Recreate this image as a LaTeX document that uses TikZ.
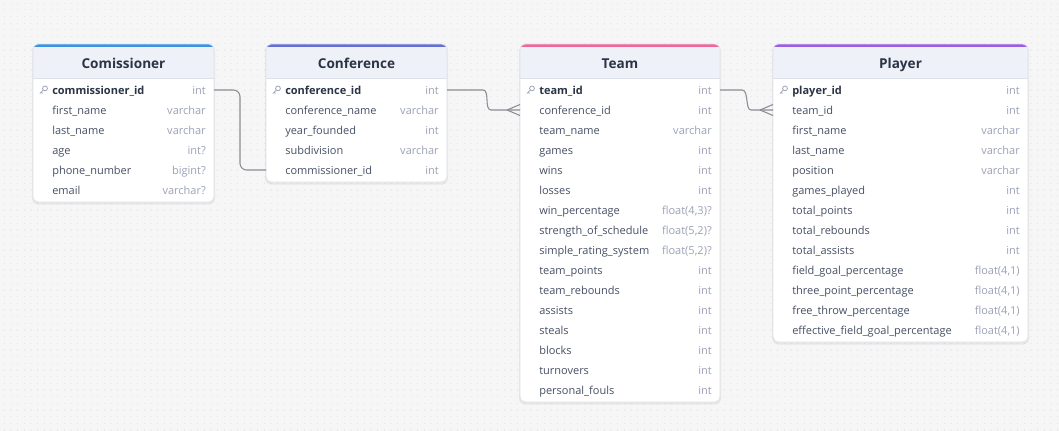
\documentclass[tikz,border=0pt]{standalone}
\usepackage{fontspec}
\setmainfont{Open Sans}
\usetikzlibrary{calc}

\definecolor{sfondo}{HTML}{F6F6F7}
\definecolor{puntini}{HTML}{E0E1E4}
\definecolor{intest}{HTML}{EEF2F8}
\definecolor{bordo}{HTML}{DDE2EA}
\definecolor{nome}{HTML}{465064}
\definecolor{tipo}{HTML}{9CA2B6}
\definecolor{titolo}{HTML}{2B3445}
\definecolor{linea}{HTML}{8A8D93}
\definecolor{blu}{HTML}{3B94E3}
\definecolor{indaco}{HTML}{6670D4}
\definecolor{rosa}{HTML}{F2679A}
\definecolor{viola}{HTML}{9B5DE5}

\tikzset{
  nomecampo/.style={anchor=west, inner sep=0pt, text height=1.5ex, text depth=.3ex,
    text=nome, font=\fontsize{8.25}{10}\selectfont},
  chiaveprim/.style={nomecampo, text=titolo, font=\fontsize{8.25}{10}\selectfont\bfseries},
  tipocampo/.style={anchor=east, inner sep=0pt, text height=1.5ex, text depth=.3ex,
    text=tipo, font=\fontsize{8.25}{10}\selectfont},
  titolotab/.style={inner sep=0pt, text height=1.5ex, text depth=.3ex, text=titolo,
    font=\fontsize{10.2}{12}\selectfont\bfseries},
  relazione/.style={draw=linea, line width=0.8pt},
}

% #1 nome, #2 x, #3 larghezza, #4 righe, #5 colore, #6 titolo
\newcommand{\tabella}[6]{%
  \pgfmathsetmacro{\basso}{82+20*#4}
  \fill[black, opacity=.06, rounded corners=4pt] (#2-1,45) rectangle (#2+#3+1,\basso+2.5);
  \fill[white, rounded corners=4pt] (#2,44) rectangle (#2+#3,\basso);
  \begin{scope}
    \clip[rounded corners=4pt] (#2,44) rectangle (#2+#3,\basso);
    \fill[intest] (#2,44) rectangle (#2+#3,78);
    \fill[#5] (#2,44) rectangle (#2+#3,47.5);
  \end{scope}
  \draw[bordo, line width=0.5pt] (#2,78) -- (#2+#3,78);
  \draw[bordo, line width=0.5pt, rounded corners=4pt] (#2,44) rectangle (#2+#3,\basso);
  \node[titolotab] (#1) at (#2+#3/2,64) {#6};
  \coordinate (#1-o) at (#2,0);
  \coordinate (#1-d) at (#2+#3,0);
}

% #1 tabella, #2 riga, #3 campo, #4 tipo
\newcommand{\campo}[4]{%
  \coordinate (#1-#2-o) at ($(#1-o)+(0,{90+20*#2})$);
  \coordinate (#1-#2-d) at ($(#1-d)+(0,{90+20*#2})$);
  \node[nomecampo] (#1-#2) at ($(#1-#2-o)+(19,0)$) {#3};
  \node[tipocampo] (#1-#2-t) at ($(#1-#2-d)+(-8,0)$) {#4};
}

% chiave primaria, sempre riga 0
\newcommand{\chiave}[3]{%
  \coordinate (#1-0-o) at ($(#1-o)+(0,90)$);
  \coordinate (#1-0-d) at ($(#1-d)+(0,90)$);
  \draw[tipo, line width=0.6pt] ($(#1-0-o)+(12,-1.6)$) circle (2.4);
  \draw[tipo, line width=0.6pt, line cap=round] ($(#1-0-o)+(10.3,0.1)$) -- ($(#1-0-o)+(7,3.4)$)
    ($(#1-0-o)+(8.2,2.2)$) -- ($(#1-0-o)+(9.3,3.3)$);
  \node[chiaveprim] (#1-0) at ($(#1-0-o)+(19,0)$) {#2};
  \node[tipocampo] (#1-0-t) at ($(#1-0-d)+(-8,0)$) {#3};
}

\begin{document}
\begin{tikzpicture}[x=0.75pt,y=-0.75pt]

\useasboundingbox (0,0) rectangle (1059,431);
\fill[sfondo] (0,0) rectangle (1059,431);
\foreach \j in {0,...,64}
  \draw[puntini, line width=0.8pt, line cap=round, dash pattern=on 0.01pt off 4.99pt]
    (4.3,{3.3+6.667*\j}) -- (1059,{3.3+6.667*\j});

\begin{scope}
\tabella{comm}{33}{181}{6}{blu}{Comissioner}
\chiave{comm}{commissioner\_id}{int}
\campo{comm}{1}{first\_name}{varchar}
\campo{comm}{2}{last\_name}{varchar}
\campo{comm}{3}{age}{int?}
\campo{comm}{4}{phone\_number}{bigint?}
\campo{comm}{5}{email}{varchar?}
\end{scope}

\begin{scope}
\tabella{conf}{266}{181}{5}{indaco}{Conference}
\chiave{conf}{conference\_id}{int}
\campo{conf}{1}{conference\_name}{varchar}
\campo{conf}{2}{year\_founded}{int}
\campo{conf}{3}{subdivision}{varchar}
\campo{conf}{4}{commissioner\_id}{int}
\end{scope}

\begin{scope}
\tabella{squadra}{520}{200}{16}{rosa}{Team}
\chiave{squadra}{team\_id}{int}
\campo{squadra}{1}{conference\_id}{int}
\campo{squadra}{2}{team\_name}{varchar}
\campo{squadra}{3}{games}{int}
\campo{squadra}{4}{wins}{int}
\campo{squadra}{5}{losses}{int}
\campo{squadra}{6}{win\_percentage}{float(4,3)?}
\campo{squadra}{7}{strength\_of\_schedule}{float(5,2)?}
\campo{squadra}{8}{simple\_rating\_system}{float(5,2)?}
\campo{squadra}{9}{team\_points}{int}
\campo{squadra}{10}{team\_rebounds}{int}
\campo{squadra}{11}{assists}{int}
\campo{squadra}{12}{steals}{int}
\campo{squadra}{13}{blocks}{int}
\campo{squadra}{14}{turnovers}{int}
\campo{squadra}{15}{personal\_fouls}{int}
\end{scope}

\begin{scope}
\tabella{gioc}{773}{255}{13}{viola}{Player}
\chiave{gioc}{player\_id}{int}
\campo{gioc}{1}{team\_id}{int}
\campo{gioc}{2}{first\_name}{varchar}
\campo{gioc}{3}{last\_name}{varchar}
\campo{gioc}{4}{position}{varchar}
\campo{gioc}{5}{games\_played}{int}
\campo{gioc}{6}{total\_points}{int}
\campo{gioc}{7}{total\_rebounds}{int}
\campo{gioc}{8}{total\_assists}{int}
\campo{gioc}{9}{field\_goal\_percentage}{float(4,1)}
\campo{gioc}{10}{three\_point\_percentage}{float(4,1)}
\campo{gioc}{11}{free\_throw\_percentage}{float(4,1)}
\campo{gioc}{12}{effective\_field\_goal\_percentage}{float(4,1)}
\end{scope}

% relazioni
\draw[relazione, rounded corners=5pt] (comm-0-d) -- ($(comm-0-d)+(26,0)$) |- (conf-4-o);

\draw[relazione] (conf-0-d) -- ($(conf-0-d)+(36,0)$)
  .. controls ($(conf-0-d)+(43,0)$) and ($(squadra-1-o)+(-36,0)$) .. ($(squadra-1-o)+(-29,0)$)
  -- (squadra-1-o);
\draw[relazione] ($(squadra-1-o)+(-13,0)$) -- ($(squadra-1-o)+(0,-5.5)$);
\draw[relazione] ($(squadra-1-o)+(-13,0)$) -- ($(squadra-1-o)+(0,5.5)$);

\draw[relazione] (squadra-0-d) -- ($(squadra-0-d)+(22,0)$)
  .. controls ($(squadra-0-d)+(29,0)$) and ($(gioc-1-o)+(-28,0)$) .. ($(gioc-1-o)+(-22,0)$)
  -- (gioc-1-o);
\draw[relazione] ($(gioc-1-o)+(-13,0)$) -- ($(gioc-1-o)+(0,-5.5)$);
\draw[relazione] ($(gioc-1-o)+(-13,0)$) -- ($(gioc-1-o)+(0,5.5)$);

\end{tikzpicture}
\end{document}
